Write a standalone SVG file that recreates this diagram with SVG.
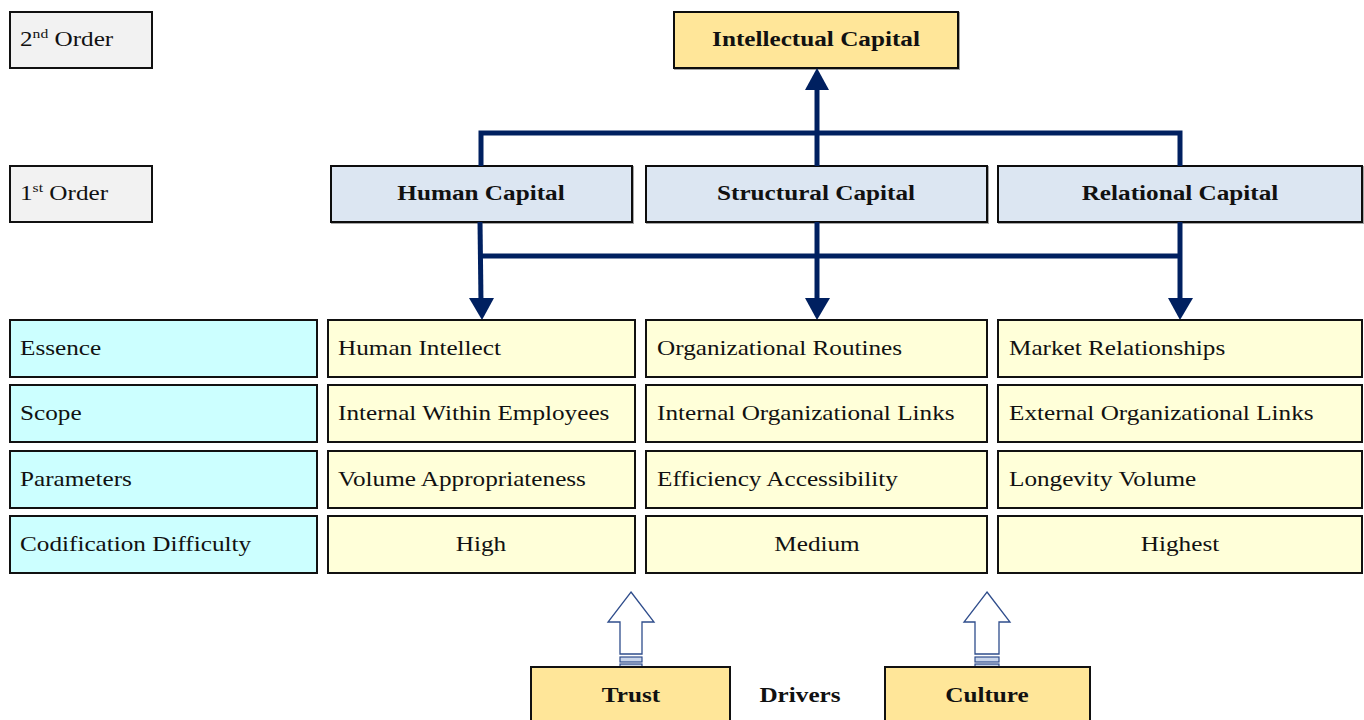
<svg xmlns="http://www.w3.org/2000/svg" width="1364" height="720" viewBox="0 0 1364 720">
  <style>
    .box { stroke: #111; stroke-width: 2; }
    .order { fill: #f2f2f2; }
    .gold { fill: #ffe699; }
    .first { fill: #dce6f2; }
    .label { fill: #ccffff; }
    .cell { fill: #ffffd9; }
    .t { font-family: "Liberation Serif", "Times New Roman", serif; font-size: 21px; fill: #111; }
    .b { font-family: "Liberation Serif", "Times New Roman", serif; font-size: 21px; font-weight: bold; fill: #111; }
    .mid { text-anchor: middle; }
    .link { stroke: #002060; stroke-width: 5; fill: none; }
    .head { fill: #002060; }
    .block { fill: #fff; stroke: #2f4d8c; stroke-width: 1.3; }
    .stripe { fill: #c9d5ea; stroke: #2f4d8c; stroke-width: 1.2; }
  </style>
  <defs>
    <filter id="shadow" x="-5%" y="-5%" width="110%" height="120%">
      <feDropShadow dx="1" dy="1" stdDeviation="0.6" flood-color="#000" flood-opacity="0.35"/>
    </filter>
  </defs>

  <rect width="1364" height="720" fill="#fff"/>

  <!-- level labels (all lettering is set wide: 1.2x horizontal scale) -->
  <g id="order2"><rect class="box order" x="10" y="12" width="142" height="56"/>
    <text class="t" transform="translate(20,46) scale(1.2,1)">2<tspan font-size="13" dy="-8">nd</tspan><tspan dy="8"> Order</tspan></text></g>
  <g id="order1"><rect class="box order" x="10" y="166" width="142" height="56"/>
    <text class="t" transform="translate(20,200) scale(1.2,1)">1<tspan font-size="13" dy="-8">st</tspan><tspan dy="8"> Order</tspan></text></g>

  <!-- second order -->
  <g id="intellectual"><rect class="box gold" x="674" y="12" width="284" height="56" filter="url(#shadow)"/>
    <text class="b mid" transform="translate(816,46) scale(1.2,1)">Intellectual Capital</text></g>

  <!-- first order -->
  <g id="human"><rect class="box first" x="331" y="166" width="301" height="56" filter="url(#shadow)"/>
    <text class="b mid" transform="translate(481,200) scale(1.2,1)">Human Capital</text></g>
  <g id="structural"><rect class="box first" x="646" y="166" width="341" height="56" filter="url(#shadow)"/>
    <text class="b mid" transform="translate(816,200) scale(1.2,1)">Structural Capital</text></g>
  <g id="relational"><rect class="box first" x="998" y="166" width="364" height="56" filter="url(#shadow)"/>
    <text class="b mid" transform="translate(1180,200) scale(1.2,1)">Relational Capital</text></g>

  <!-- connectors -->
  <g id="connectors">
    <path class="link" d="M481 166 V133 H1180 V166"/>
    <path class="link" d="M817 166 V86"/>
    <polygon class="head" points="817,68 805,90 829,90"/>
    <path class="link" d="M480 222 L481 302"/>
    <path class="link" d="M481 256 H1180"/>
    <path class="link" d="M817 222 V302"/>
    <path class="link" d="M1180 222 V302"/>
    <polygon class="head" points="469,298 494,298 482,320"/>
    <polygon class="head" points="805,298 830,298 817,320"/>
    <polygon class="head" points="1168,298 1193,298 1180,320"/>
  </g>

  <!-- attribute rows -->
  <g id="row-essence">
    <rect class="box label" x="10" y="320" width="307" height="57"/>
    <text class="t" transform="translate(20,355) scale(1.2,1)">Essence</text>
    <rect class="box cell" x="328" y="320" width="307" height="57"/>
    <text class="t" transform="translate(338,355) scale(1.2,1)">Human Intellect</text>
    <rect class="box cell" x="646" y="320" width="341" height="57"/>
    <text class="t" transform="translate(657,355) scale(1.2,1)">Organizational Routines</text>
    <rect class="box cell" x="998" y="320" width="364" height="57"/>
    <text class="t" transform="translate(1009,355) scale(1.2,1)">Market Relationships</text>
  </g>
  <g id="row-scope">
    <rect class="box label" x="10" y="385" width="307" height="57"/>
    <text class="t" transform="translate(20,420) scale(1.2,1)">Scope</text>
    <rect class="box cell" x="328" y="385" width="307" height="57"/>
    <text class="t" transform="translate(338,420) scale(1.2,1)">Internal Within Employees</text>
    <rect class="box cell" x="646" y="385" width="341" height="57"/>
    <text class="t" transform="translate(657,420) scale(1.2,1)">Internal Organizational Links</text>
    <rect class="box cell" x="998" y="385" width="364" height="57"/>
    <text class="t" transform="translate(1009,420) scale(1.2,1)">External Organizational Links</text>
  </g>
  <g id="row-parameters">
    <rect class="box label" x="10" y="451" width="307" height="57"/>
    <text class="t" transform="translate(20,486) scale(1.2,1)">Parameters</text>
    <rect class="box cell" x="328" y="451" width="307" height="57"/>
    <text class="t" transform="translate(338,486) scale(1.2,1)">Volume Appropriateness</text>
    <rect class="box cell" x="646" y="451" width="341" height="57"/>
    <text class="t" transform="translate(657,486) scale(1.2,1)">Efficiency Accessibility</text>
    <rect class="box cell" x="998" y="451" width="364" height="57"/>
    <text class="t" transform="translate(1009,486) scale(1.2,1)">Longevity Volume</text>
  </g>
  <g id="row-codification">
    <rect class="box label" x="10" y="516" width="307" height="57"/>
    <text class="t" transform="translate(20,551) scale(1.2,1)">Codification Difficulty</text>
    <rect class="box cell" x="328" y="516" width="307" height="57"/>
    <text class="t mid" transform="translate(481,551) scale(1.2,1)">High</text>
    <rect class="box cell" x="646" y="516" width="341" height="57"/>
    <text class="t mid" transform="translate(817,551) scale(1.2,1)">Medium</text>
    <rect class="box cell" x="998" y="516" width="364" height="57"/>
    <text class="t mid" transform="translate(1180,551) scale(1.2,1)">Highest</text>
  </g>

  <!-- drivers -->
  <g id="trust-arrow">
    <polygon class="block" points="631,592 654,622 642,622 642,654 620,654 620,622 608,622"/>
    <rect class="stripe" x="620" y="657" width="22" height="5"/>
    <rect class="stripe" x="620" y="664" width="22" height="3"/>
  </g>
  <g id="culture-arrow">
    <polygon class="block" points="987,592 1010,622 999,622 999,654 975,654 975,622 964,622"/>
    <rect class="stripe" x="975" y="657" width="24" height="5"/>
    <rect class="stripe" x="975" y="664" width="24" height="3"/>
  </g>
  <g id="trust"><rect class="box gold" x="531" y="667" width="199" height="60"/>
    <text class="b mid" transform="translate(631,702) scale(1.2,1)">Trust</text></g>
  <g id="drivers"><text class="b mid" transform="translate(800,702) scale(1.2,1)">Drivers</text></g>
  <g id="culture"><rect class="box gold" x="885" y="667" width="205" height="60"/>
    <text class="b mid" transform="translate(987,702) scale(1.2,1)">Culture</text></g>
</svg>
